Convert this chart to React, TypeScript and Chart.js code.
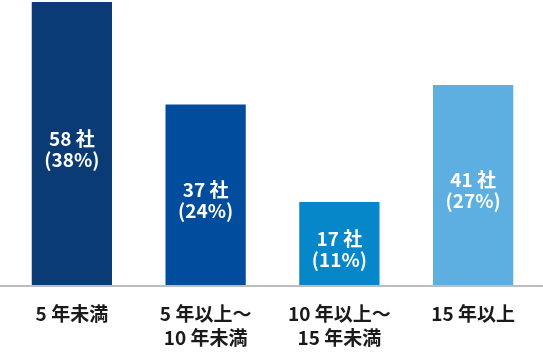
import React, { useEffect, useRef } from "react";
import { Chart, registerables } from "chart.js";

Chart.register(...registerables);

const categories: string[][] = [["5 年未満"], ["5 年以上～", "10 年未満"], ["10 年以上～", "15 年未満"], ["15 年以上"]];
const counts: number[] = [58, 37, 17, 41];
const percents: string[] = ["38%", "24%", "11%", "27%"];
const barColors: string[] = ["#0a3b74", "#014c9c", "#0587c9", "#5daee1"];

const FONT = '"Noto Sans CJK JP", "Noto Sans", sans-serif';

const baselinePlugin = {
  id: "baseline",
  afterDatasetsDraw(chart: any) {
    const { ctx, chartArea } = chart;
    ctx.save();
    ctx.fillStyle = "#bdbdbd";
    ctx.fillRect(0, chartArea.bottom, chart.width, 2);
    ctx.restore();
  },
};

const labelPlugin = {
  id: "innerLabels",
  afterDatasetsDraw(chart: any) {
    const { ctx } = chart;
    const meta = chart.getDatasetMeta(0);
    ctx.save();
    ctx.fillStyle = "#ffffff";
    ctx.textAlign = "center";
    ctx.textBaseline = "middle";
    meta.data.forEach((bar: any, i: number) => {
      const mid = (bar.y + bar.base) / 2;
      ctx.font = `bold 19px ${FONT}`;
      ctx.fillText(`${counts[i]} 社`, bar.x, mid - 5);
      ctx.fillText(`(${percents[i]})`, bar.x, mid + 16);
    });
    ctx.restore();
  },
};

export default function App() {
  const ref = useRef<HTMLCanvasElement>(null);
  useEffect(() => {
    if (!ref.current) return;
    const chart = new Chart(ref.current, {
      type: "bar",
      data: {
        labels: categories,
        datasets: [
          {
            data: counts,
            backgroundColor: barColors,
            borderWidth: 0,
            barPercentage: 0.6,
            categoryPercentage: 1,
          },
        ],
      },
      options: {
        animation: false,
        responsive: false,
        devicePixelRatio: 1,
        layout: { padding: { top: 2, left: 5, right: 3, bottom: 2 } },
        plugins: { legend: { display: false }, tooltip: { enabled: false } },
        scales: {
          y: { display: false, min: 0, max: 58 },
          x: {
            grid: { display: false, drawTicks: false },
            border: { display: false },
            afterFit(scale: any) {
              scale.height = 65;
            },
            ticks: {
              color: "#1a1a1a",
              padding: 17,
              maxRotation: 0,
              autoSkip: false,
              font: { family: FONT, size: 19, weight: "bold", lineHeight: 1.27 },
            },
          },
        },
      },
      plugins: [baselinePlugin, labelPlugin],
    });
    return () => chart.destroy();
  }, []);
  return (
    <div style={{ position: "absolute", left: 0, top: 0, width: 543, height: 352 }}>
      <canvas ref={ref} width={543} height={352} />
    </div>
  );
}
